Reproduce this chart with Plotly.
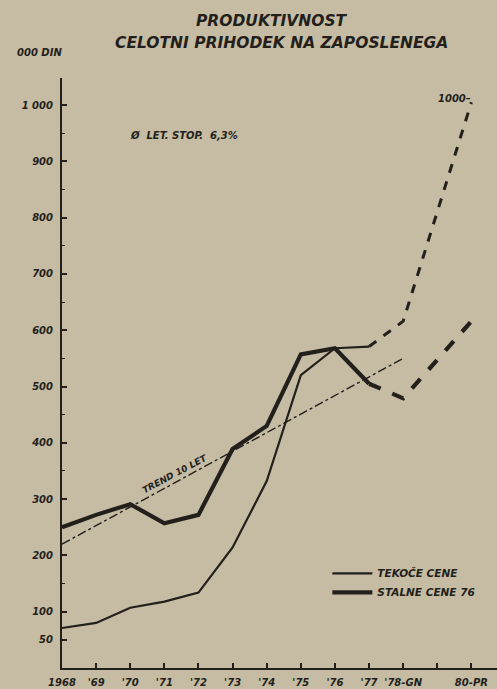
import plotly.graph_objects as go

# ---- data ----
years_solid = [1968, 1969, 1970, 1971, 1972, 1973, 1974, 1975, 1976, 1977]
tekoce_solid = [71, 80, 107, 118, 134, 214, 332, 520, 568, 571]
stalne_solid = [250, 272, 291, 257, 272, 389, 430, 557, 568, 505]

years_dash = [1977, 1978, 1980]
tekoce_dash = [571, 616, 1005]
stalne_dash = [505, 479, 616]

trend_years = [1968, 1978]
trend_vals = [220, 550]

x_tickvals = [1968, 1969, 1970, 1971, 1972, 1973, 1974, 1975, 1976, 1977, 1978, 1979, 1980]
x_ticktext = ["1968", "'69", "'70", "'71", "'72", "'73", "'74", "'75", "'76", "'77", "'78-GN", "", "80-PR"]
y_tickvals = [50, 100, 200, 300, 400, 500, 600, 700, 800, 900, 1000]
y_ticktext = ["50", "100", "200", "300", "400", "500", "600", "700", "800", "900", "1 000"]

INK = "#231f1b"
BG = "#c6bca4"
FONT = "DejaVu Sans"

fig = go.Figure()

fig.add_trace(go.Scatter(x=trend_years, y=trend_vals, mode="lines",
                         line=dict(color=INK, width=1.4, dash="dashdot"),
                         showlegend=False, hoverinfo="skip"))
fig.add_trace(go.Scatter(x=years_solid, y=tekoce_solid, mode="lines",
                         line=dict(color=INK, width=2.2),
                         name="TEKOČE CENE"))
fig.add_trace(go.Scatter(x=years_solid, y=stalne_solid, mode="lines",
                         line=dict(color=INK, width=4.2),
                         name="STALNE CENE 76"))
fig.add_trace(go.Scatter(x=years_dash, y=tekoce_dash, mode="lines",
                         line=dict(color=INK, width=3, dash="dash"),
                         showlegend=False))
fig.add_trace(go.Scatter(x=years_dash, y=stalne_dash, mode="lines",
                         line=dict(color=INK, width=4.2, dash="dash"),
                         showlegend=False))

bi = dict(family=FONT, color=INK, weight="bold", style="italic")

fig.update_layout(
    width=497, height=689,
    paper_bgcolor=BG, plot_bgcolor=BG,
    margin=dict(l=62, r=0, t=78, b=21),
    showlegend=True,
    legend=dict(x=0.61, y=0.185, xanchor="left", yanchor="top",
                bgcolor="rgba(0,0,0,0)", font=dict(size=10.5, **bi),
                tracegroupgap=0, itemwidth=40),
    xaxis=dict(range=[1968, 1980.75], tickvals=x_tickvals, ticktext=x_ticktext,
               showgrid=False, zeroline=False, showline=True, linecolor=INK, linewidth=2,
               ticks="inside", ticklen=5, tickwidth=1.5, tickcolor=INK,
               tickfont=dict(size=10, **bi), ticklabelstandoff=4),
    yaxis=dict(range=[0, 1048], tickvals=y_tickvals, ticktext=y_ticktext,
               showgrid=False, zeroline=False, showline=True, linecolor=INK, linewidth=2,
               ticks="inside", ticklen=5, tickwidth=1.5, tickcolor=INK,
               tickfont=dict(size=10, **bi), ticklabelstandoff=5,
               minor=dict(dtick=50, ticks="inside", ticklen=3, tickwidth=1, tickcolor=INK)),
)

anns = [
    dict(text="PRODUKTIVNOST", x=272, y=21, size=15.5),
    dict(text="CELOTNI PRIHODEK NA ZAPOSLENEGA", x=281, y=43, size=15.5),
    dict(text="000 DIN", x=39, y=52, size=10),
]
for a in anns:
    fig.add_annotation(text=a["text"], xref="paper", yref="paper",
                       x=(a["x"] - 62) / 435, y=(668 - a["y"]) / 590,
                       xanchor="center", yanchor="middle", showarrow=False,
                       font=dict(size=a["size"], **bi))

fig.add_annotation(text="Ø  LET. STOP.  6,3%", xref="paper", yref="paper",
                   x=(128 - 62) / 435, y=(668 - 135) / 590, xanchor="left", yanchor="middle",
                   showarrow=False, font=dict(size=10, **bi))
fig.add_annotation(text="1000–", x=1980, y=1005, xanchor="right", yanchor="bottom",
                   showarrow=False, font=dict(size=10, **bi), xshift=2, yshift=-4)
fig.add_annotation(text="TREND 10 LET", x=1971.3, y=344, textangle=-28,
                   xanchor="center", yanchor="middle", showarrow=False,
                   font=dict(size=9, **bi))

fig.write_html("out.html", config={"displayModeBar": False},
               post_script="document.body.style.margin='0';document.body.style.overflow='hidden';")
